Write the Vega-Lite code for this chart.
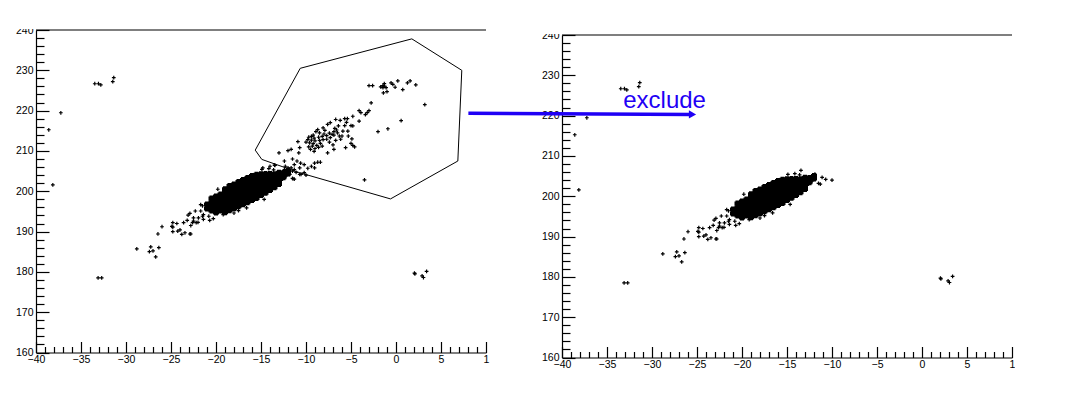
{
"$schema":"https://vega.github.io/schema/vega-lite/v6.json",
"padding":{"left":14,"top":9,"right":0,"bottom":0},
"background":"white",
"config":{"view":{"stroke":null},"axis":{"labelFont":"Liberation Sans","labelFontSize":10.5,"labelColor":"#000","domainColor":"#000","tickColor":"#000","tickWidth":1.2,"domainWidth":1.2,"grid":false,"title":null,"labelFlush":false,"labelOverlap":false},"text":{"font":"Liberation Sans"}},
"datasets":{
"ticksdummy":[{"x":-40,"y":160}],
"top":[{"x":-40,"x2":10,"y":240}],
"mask":[{"x":-40,"y":240}],
"gate":[{"o":1,"x":-15.64,"y":210.2},{"o":2,"x":-14.91,"y":207.9},{"o":3,"x":-10.72,"y":204.6},{"o":4,"x":-0.61,"y":198.1},{"o":5,"x":6.87,"y":207.5},{"o":6,"x":7.31,"y":230.0},{"o":7,"x":1.76,"y":237.8},{"o":8,"x":-10.64,"y":230.5},{"o":9,"x":-15.64,"y":210.2}],
"arrow":[{"o":1,"x":-50.4,"y":220.6},{"o":2,"x":-25.6,"y":220.3}],
"head":[{"x":-25.5,"y":220.3}],
"label":[{"x":-33.2,"y":221.95,"t":"exclude"}],
"pts":[
{"x":-21,"y":195.7,"g":"core"},{"x":-21,"y":196.7,"g":"core"},
{"x":-20.5,"y":195.2,"g":"core"},{"x":-20.5,"y":196.2,"g":"core"},{"x":-20.5,"y":197.2,"g":"core"},{"x":-20.5,"y":198.2,"g":"core"},
{"x":-20,"y":194.7,"g":"core"},{"x":-20,"y":195.7,"g":"core"},{"x":-20,"y":196.7,"g":"core"},{"x":-20,"y":197.7,"g":"core"},{"x":-20,"y":198.7,"g":"core"},
{"x":-19.5,"y":195.2,"g":"core"},{"x":-19.5,"y":196.2,"g":"core"},{"x":-19.5,"y":197.2,"g":"core"},{"x":-19.5,"y":198.2,"g":"core"},{"x":-19.5,"y":199.2,"g":"core"},
{"x":-19,"y":194.8,"g":"core"},{"x":-19,"y":195.8,"g":"core"},{"x":-19,"y":196.8,"g":"core"},{"x":-19,"y":197.8,"g":"core"},{"x":-19,"y":198.8,"g":"core"},{"x":-19,"y":199.8,"g":"core"},{"x":-19,"y":200.5,"g":"core"},
{"x":-18.5,"y":195.3,"g":"core"},{"x":-18.5,"y":196.3,"g":"core"},{"x":-18.5,"y":197.3,"g":"core"},{"x":-18.5,"y":198.3,"g":"core"},{"x":-18.5,"y":199.3,"g":"core"},{"x":-18.5,"y":200.3,"g":"core"},{"x":-18.5,"y":201.3,"g":"core"},
{"x":-18,"y":195.8,"g":"core"},{"x":-18,"y":196.8,"g":"core"},{"x":-18,"y":197.8,"g":"core"},{"x":-18,"y":198.8,"g":"core"},{"x":-18,"y":199.8,"g":"core"},{"x":-18,"y":200.8,"g":"core"},{"x":-18,"y":201.7,"g":"core"},
{"x":-17.5,"y":196.3,"g":"core"},{"x":-17.5,"y":197.3,"g":"core"},{"x":-17.5,"y":198.3,"g":"core"},{"x":-17.5,"y":199.3,"g":"core"},{"x":-17.5,"y":200.3,"g":"core"},{"x":-17.5,"y":201.3,"g":"core"},{"x":-17.5,"y":202.3,"g":"core"},
{"x":-17,"y":196.8,"g":"core"},{"x":-17,"y":197.8,"g":"core"},{"x":-17,"y":198.8,"g":"core"},{"x":-17,"y":199.8,"g":"core"},{"x":-17,"y":200.8,"g":"core"},{"x":-17,"y":201.8,"g":"core"},{"x":-17,"y":202.8,"g":"core"},
{"x":-16.5,"y":197.3,"g":"core"},{"x":-16.5,"y":198.3,"g":"core"},{"x":-16.5,"y":199.3,"g":"core"},{"x":-16.5,"y":200.3,"g":"core"},{"x":-16.5,"y":201.3,"g":"core"},{"x":-16.5,"y":202.3,"g":"core"},{"x":-16.5,"y":203.3,"g":"core"},
{"x":-16,"y":197.8,"g":"core"},{"x":-16,"y":198.8,"g":"core"},{"x":-16,"y":199.8,"g":"core"},{"x":-16,"y":200.8,"g":"core"},{"x":-16,"y":201.8,"g":"core"},{"x":-16,"y":202.8,"g":"core"},{"x":-16,"y":203.8,"g":"core"},
{"x":-15.5,"y":198.3,"g":"core"},{"x":-15.5,"y":199.3,"g":"core"},{"x":-15.5,"y":200.3,"g":"core"},{"x":-15.5,"y":201.3,"g":"core"},{"x":-15.5,"y":202.3,"g":"core"},{"x":-15.5,"y":203.3,"g":"core"},{"x":-15.5,"y":204.1,"g":"core"},
{"x":-15,"y":199.1,"g":"core"},{"x":-15,"y":200.1,"g":"core"},{"x":-15,"y":201.1,"g":"core"},{"x":-15,"y":202.1,"g":"core"},{"x":-15,"y":203.1,"g":"core"},{"x":-15,"y":204.2,"g":"core"},
{"x":-14.5,"y":199.6,"g":"core"},{"x":-14.5,"y":200.6,"g":"core"},{"x":-14.5,"y":201.6,"g":"core"},{"x":-14.5,"y":202.6,"g":"core"},{"x":-14.5,"y":203.6,"g":"core"},{"x":-14.5,"y":204.3,"g":"core"},
{"x":-14,"y":200.3,"g":"core"},{"x":-14,"y":201.3,"g":"core"},{"x":-14,"y":202.3,"g":"core"},{"x":-14,"y":203.3,"g":"core"},{"x":-14,"y":204.3,"g":"core"},
{"x":-13.5,"y":201,"g":"core"},{"x":-13.5,"y":202,"g":"core"},{"x":-13.5,"y":203,"g":"core"},{"x":-13.5,"y":204.2,"g":"core"},
{"x":-13,"y":201.8,"g":"core"},{"x":-13,"y":202.8,"g":"core"},{"x":-13,"y":203.8,"g":"core"},{"x":-13,"y":204.6,"g":"core"},
{"x":-12.5,"y":203.5,"g":"core"},{"x":-12.5,"y":204.5,"g":"core"},{"x":-12,"y":204.4,"g":"core"},{"x":-12,"y":205,"g":"core"},

{"x":-38.58,"y":215.25,"g":"edge"},{"x":-37.24,"y":219.47,"g":"edge"},{"x":-38.13,"y":201.6,"g":"edge"},{"x":-33.47,"y":226.67,"g":"edge"},{"x":-33.06,"y":226.67,"g":"edge"},{"x":-32.8,"y":226.4,"g":"edge"},{"x":-31.36,"y":228.2,"g":"edge"},{"x":-31.47,"y":227.2,"g":"edge"},
{"x":-33.1,"y":178.5,"g":"edge"},{"x":-32.7,"y":178.5,"g":"edge"},{"x":-28.8,"y":185.7,"g":"edge"},{"x":-27.4,"y":185,"g":"edge"},{"x":-27.25,"y":186.2,"g":"edge"},{"x":-27,"y":185.2,"g":"edge"},{"x":-26.7,"y":183.7,"g":"edge"},{"x":-26.35,"y":186,"g":"edge"},{"x":-26.45,"y":189.4,"g":"edge"},{"x":-26,"y":191.2,"g":"edge"},
{"x":-24.8,"y":192.2,"g":"edge"},{"x":-24.9,"y":191.3,"g":"edge"},{"x":-24.8,"y":191.1,"g":"edge"},{"x":-24.8,"y":190,"g":"edge"},{"x":-24.35,"y":192,"g":"edge"},{"x":-24.25,"y":190.1,"g":"edge"},{"x":-24,"y":190.4,"g":"edge"},{"x":-23.8,"y":189.3,"g":"edge"},{"x":-23.45,"y":189.7,"g":"edge"},{"x":-23.6,"y":192.2,"g":"edge"},{"x":-23.2,"y":192.8,"g":"edge"},{"x":-23.1,"y":194.1,"g":"edge"},{"x":-22.9,"y":194.5,"g":"edge"},{"x":-22.9,"y":189.4,"g":"edge"},{"x":-22.8,"y":189.4,"g":"edge"},{"x":-22.8,"y":191.5,"g":"edge"},{"x":-22.5,"y":192.6,"g":"edge"},{"x":-22.5,"y":193.4,"g":"edge"},{"x":-22.6,"y":192.2,"g":"edge"},{"x":-22.2,"y":192.2,"g":"edge"},{"x":-21.95,"y":193.4,"g":"edge"},{"x":-22.3,"y":195.1,"g":"edge"},{"x":-21.7,"y":195.1,"g":"edge"},{"x":-22,"y":192.3,"g":"edge"},{"x":-21.5,"y":193.8,"g":"edge"},{"x":-21.4,"y":193,"g":"edge"},{"x":-21.4,"y":194.2,"g":"edge"},{"x":-21.5,"y":196.4,"g":"edge"},{"x":-21.7,"y":196.7,"g":"edge"},{"x":-20.7,"y":192.8,"g":"edge"},{"x":-20.3,"y":193.2,"g":"edge"},{"x":-20.8,"y":193.8,"g":"edge"},{"x":-19.2,"y":194.2,"g":"edge"},{"x":-18,"y":194.6,"g":"edge"},{"x":-17.5,"y":195.2,"g":"edge"},{"x":-16.6,"y":195.9,"g":"edge"},{"x":-14.65,"y":198,"g":"edge"},{"x":-19.8,"y":200.5,"g":"edge"},
{"x":-14.13,"y":205.6,"g":"edge"},{"x":-13.45,"y":206.4,"g":"edge"},{"x":-13.6,"y":205.3,"g":"edge"},{"x":-14.9,"y":205.45,"g":"edge"},{"x":-11.1,"y":204.7,"g":"edge"},{"x":-10.7,"y":204.2,"g":"edge"},{"x":-10,"y":204,"g":"edge"},{"x":-11.5,"y":203.2,"g":"edge"},{"x":-11.3,"y":203,"g":"edge"},{"x":-11.9,"y":205.5,"g":"edge"},{"x":-12.6,"y":203,"g":"edge"},{"x":-12.2,"y":203.8,"g":"edge"},
{"x":2.05,"y":179.7,"g":"edge"},{"x":2.1,"y":179.5,"g":"edge"},{"x":2.9,"y":179,"g":"edge"},{"x":3.05,"y":178.6,"g":"edge"},{"x":3.4,"y":180.1,"g":"edge"},

{"x":-3,"y":226.2,"g":"gate"},{"x":-2.6,"y":226.2,"g":"gate"},{"x":-1.7,"y":225.9,"g":"gate"},{"x":-1.45,"y":226.2,"g":"gate"},{"x":-1.3,"y":226.7,"g":"gate"},{"x":-1.3,"y":226.1,"g":"gate"},{"x":-1.45,"y":225.7,"g":"gate"},{"x":-1.1,"y":225.7,"g":"gate"},{"x":-1,"y":224.7,"g":"gate"},{"x":-1.4,"y":224.4,"g":"gate"},{"x":-0.55,"y":226.9,"g":"gate"},{"x":-0.35,"y":226.5,"g":"gate"},{"x":-0.1,"y":225.8,"g":"gate"},{"x":0.2,"y":227.4,"g":"gate"},{"x":0.75,"y":225.2,"g":"gate"},{"x":1.27,"y":226.9,"g":"gate"},{"x":1.57,"y":227.4,"g":"gate"},{"x":2.2,"y":226.4,"g":"gate"},{"x":3.2,"y":221.5,"g":"gate"},{"x":0.57,"y":217.5,"g":"gate"},{"x":-0.9,"y":215.5,"g":"gate"},{"x":-2,"y":214.8,"g":"gate"},{"x":-3.5,"y":202.8,"g":"gate"},{"x":-2.76,"y":221.9,"g":"gate"},
{"x":-3,"y":220,"g":"gate"},{"x":-3.4,"y":219,"g":"gate"},{"x":-3.2,"y":219.5,"g":"gate"},{"x":-4.1,"y":220,"g":"gate"},{"x":-3.9,"y":219.5,"g":"gate"},{"x":-4.1,"y":217.4,"g":"gate"},{"x":-4.8,"y":218.6,"g":"gate"},{"x":-5.4,"y":218,"g":"gate"},{"x":-5.7,"y":218,"g":"gate"},{"x":-6.7,"y":217.8,"g":"gate"},{"x":-6.2,"y":217.6,"g":"gate"},{"x":-5.5,"y":217.1,"g":"gate"},{"x":-5,"y":216.3,"g":"gate"},{"x":-4.8,"y":216.2,"g":"gate"},{"x":-5.7,"y":216.3,"g":"gate"},{"x":-5.35,"y":214.9,"g":"gate"},{"x":-5.9,"y":214.9,"g":"gate"},{"x":-5.3,"y":213.7,"g":"gate"},{"x":-6,"y":213.7,"g":"gate"},{"x":-4.9,"y":213,"g":"gate"},{"x":-6.15,"y":212.9,"g":"gate"},{"x":-5,"y":211.9,"g":"gate"},{"x":-4.8,"y":211.4,"g":"gate"},{"x":-4.6,"y":211,"g":"gate"},{"x":-5.6,"y":210.8,"g":"gate"},{"x":-6.9,"y":210.4,"g":"gate"},{"x":-7.6,"y":209.5,"g":"gate"},
{"x":-7.6,"y":216.6,"g":"gate"},{"x":-7.3,"y":217,"g":"gate"},{"x":-8.1,"y":215.7,"g":"gate"},{"x":-8.7,"y":215.3,"g":"gate"},{"x":-8.5,"y":214.5,"g":"gate"},{"x":-8.9,"y":214.8,"g":"gate"},{"x":-9.2,"y":213.9,"g":"gate"},{"x":-9.4,"y":213.6,"g":"gate"},{"x":-9.7,"y":213.4,"g":"gate"},{"x":-9.1,"y":213.2,"g":"gate"},{"x":-8.6,"y":213.4,"g":"gate"},{"x":-8.2,"y":213.6,"g":"gate"},{"x":-8,"y":214.2,"g":"gate"},{"x":-7.7,"y":213.8,"g":"gate"},{"x":-7.4,"y":214.4,"g":"gate"},{"x":-7.1,"y":214.1,"g":"gate"},{"x":-6.9,"y":214.8,"g":"gate"},{"x":-6.6,"y":215.2,"g":"gate"},{"x":-6.8,"y":215.6,"g":"gate"},{"x":-6.5,"y":214.5,"g":"gate"},{"x":-6.9,"y":213.9,"g":"gate"},{"x":-7.3,"y":213.3,"g":"gate"},{"x":-7.7,"y":212.9,"g":"gate"},{"x":-8.1,"y":212.8,"g":"gate"},{"x":-8.5,"y":212.6,"g":"gate"},{"x":-9,"y":212.5,"g":"gate"},{"x":-9.4,"y":212.7,"g":"gate"},{"x":-9.8,"y":212.8,"g":"gate"},{"x":-10,"y":212.2,"g":"gate"},{"x":-9.6,"y":212,"g":"gate"},{"x":-9.2,"y":211.8,"g":"gate"},{"x":-8.8,"y":211.4,"g":"gate"},{"x":-9.3,"y":211.2,"g":"gate"},{"x":-9.7,"y":211,"g":"gate"},{"x":-9.5,"y":210.4,"g":"gate"},{"x":-9,"y":210.6,"g":"gate"},{"x":-8.6,"y":210.9,"g":"gate"},{"x":-9.1,"y":209.9,"g":"gate"},{"x":-8.4,"y":211.9,"g":"gate"},{"x":-8.2,"y":211.2,"g":"gate"},{"x":-7.4,"y":212.2,"g":"gate"},{"x":-7,"y":211.5,"g":"gate"},{"x":-6.7,"y":212.6,"g":"gate"},{"x":-6.3,"y":213.7,"g":"gate"},{"x":-6.4,"y":216.2,"g":"gate"},{"x":-7.9,"y":215.1,"g":"gate"},
{"x":-13,"y":209.5,"g":"gate"},{"x":-12,"y":210.1,"g":"gate"},{"x":-11.65,"y":210.4,"g":"gate"},{"x":-10.9,"y":212.3,"g":"gate"},{"x":-10.7,"y":210.8,"g":"gate"},{"x":-10.8,"y":209.5,"g":"gate"},{"x":-11.5,"y":208,"g":"gate"},{"x":-11,"y":207.5,"g":"gate"},{"x":-11.3,"y":206.6,"g":"gate"},{"x":-10.6,"y":207,"g":"gate"},{"x":-10.2,"y":206.6,"g":"gate"},{"x":-9.8,"y":205.7,"g":"gate"},{"x":-9.4,"y":206.2,"g":"gate"},{"x":-9.05,"y":207,"g":"gate"},{"x":-8.7,"y":207.2,"g":"gate"},{"x":-8.4,"y":207.2,"g":"gate"},{"x":-9.05,"y":205.8,"g":"gate"},{"x":-10.55,"y":204.2,"g":"gate"},{"x":-10.2,"y":204.6,"g":"gate"},{"x":-10.7,"y":205.8,"g":"gate"},{"x":-12.4,"y":207.5,"g":"gate"},{"x":-12.3,"y":206.2,"g":"gate"},{"x":-13.5,"y":206.5,"g":"gate"},{"x":-14,"y":206.2,"g":"gate"},{"x":-14.8,"y":205.8,"g":"gate"},
{"x":-12.76,"y":204.6,"g":"gate"},{"x":-12.4,"y":205.4,"g":"gate"},{"x":-12,"y":205.8,"g":"gate"},{"x":-11.65,"y":205.8,"g":"gate"},{"x":-11.3,"y":205.4,"g":"gate"},{"x":-11.45,"y":203.1,"g":"gate"},{"x":-11.8,"y":204.2,"g":"gate"},{"x":-11.5,"y":205,"g":"gate"},{"x":-12,"y":205,"g":"gate"}
]},
"hconcat":[
{"width":450,"height":322.5,
"layer":[
{"data":{"name":"ticksdummy"},"mark":{"type":"rule","opacity":0},
"encoding":{
"x":{"field":"x","type":"quantitative","scale":{"domain":[-40,10],"nice":false,"zero":false},"axis":{"orient":"bottom","values":[-39,-38,-37,-36,-34,-33,-32,-31,-29,-28,-27,-26,-24,-23,-22,-21,-19,-18,-17,-16,-14,-13,-12,-11,-9,-8,-7,-6,-4,-3,-2,-1,1,2,3,4,6,7,8,9],"labels":false,"tickSize":-6,"domain":false}},
"y":{"field":"y","type":"quantitative","scale":{"domain":[160,240],"nice":false,"zero":false},"axis":{"orient":"left","values":[162,164,166,168,172,174,176,178,182,184,186,188,192,194,196,198,202,204,206,208,212,214,216,218,222,224,226,228,232,234,236,238],"labels":false,"tickSize":-8,"domain":false}}}},
{"data":{"name":"pts"},"transform":[{"filter":"datum.g=='core'"}],"mark":{"type":"point","shape":"M-1,0H1M0,-1V1","filled":false,"stroke":"#000","strokeWidth":4,"size":36,"opacity":1},
"encoding":{
"x":{"field":"x","type":"quantitative","scale":{"domain":[-40,10],"nice":false,"zero":false},"axis":{"orient":"bottom","values":[-40,-35,-30,-25,-20,-15,-10,-5,0,5,10],"tickSize":-11,"labelPadding":13,"labelExpr":"datum.value==10?'1\u00a0\u00a0':datum.label"}},
"y":{"field":"y","type":"quantitative","scale":{"domain":[160,240],"nice":false,"zero":false},"axis":{"orient":"left","values":[160,170,180,190,200,210,220,230,240],"tickSize":-13,"labelPadding":16}}}},
{"data":{"name":"pts"},"transform":[{"filter":"datum.g!='core'"}],"mark":{"type":"point","shape":"M-1,0H1M0,-1V1","filled":false,"stroke":"#000","strokeWidth":1.2,"size":14,"opacity":1},
"encoding":{"x":{"field":"x","type":"quantitative","axis":null},"y":{"field":"y","type":"quantitative","axis":null}}},
{"data":{"name":"top"},"mark":{"type":"rule","color":"#000","strokeWidth":1.2},"encoding":{"x":{"field":"x","type":"quantitative","axis":null},"x2":{"field":"x2"},"y":{"field":"y","type":"quantitative","axis":null}}},
{"data":{"name":"gate"},"mark":{"type":"line","color":"#000","strokeWidth":1},"encoding":{"x":{"field":"x","type":"quantitative","axis":null},"y":{"field":"y","type":"quantitative","axis":null},"order":{"field":"o"}}},
{"data":{"name":"mask"},"mark":{"type":"point","shape":"square","filled":true,"color":"#fff","size":400,"opacity":1,"xOffset":-12,"yOffset":-11},"encoding":{"x":{"field":"x","type":"quantitative","axis":null},"y":{"field":"y","type":"quantitative","axis":null}}}
],
"resolve":{"axis":{"x":"independent","y":"independent"}}},
{"spacing":0,"bounds":"flush","vconcat":[
{"width":450,"height":5,"data":{"name":"ticksdummy"},"mark":{"type":"rule","opacity":0},"encoding":{"x":{"field":"x","type":"quantitative","axis":null},"y":{"field":"y","type":"quantitative","axis":null}}},
{"width":450,"height":322.5,
"layer":[
{"data":{"name":"ticksdummy"},"mark":{"type":"rule","opacity":0},
"encoding":{
"x":{"field":"x","type":"quantitative","scale":{"domain":[-40,10],"nice":false,"zero":false},"axis":{"orient":"bottom","values":[-39,-38,-37,-36,-34,-33,-32,-31,-29,-28,-27,-26,-24,-23,-22,-21,-19,-18,-17,-16,-14,-13,-12,-11,-9,-8,-7,-6,-4,-3,-2,-1,1,2,3,4,6,7,8,9],"labels":false,"tickSize":-6,"domain":false}},
"y":{"field":"y","type":"quantitative","scale":{"domain":[160,240],"nice":false,"zero":false},"axis":{"orient":"left","values":[162,164,166,168,172,174,176,178,182,184,186,188,192,194,196,198,202,204,206,208,212,214,216,218,222,224,226,228,232,234,236,238],"labels":false,"tickSize":-8,"domain":false}}}},
{"data":{"name":"pts"},"transform":[{"filter":"datum.g=='core'"}],"mark":{"type":"point","shape":"M-1,0H1M0,-1V1","filled":false,"stroke":"#000","strokeWidth":4,"size":36,"opacity":1},
"encoding":{
"x":{"field":"x","type":"quantitative","scale":{"domain":[-40,10],"nice":false,"zero":false},"axis":{"orient":"bottom","values":[-40,-35,-30,-25,-20,-15,-10,-5,0,5,10],"tickSize":-11,"labelPadding":13,"labelExpr":"datum.value==10?'1\u00a0\u00a0':datum.label"}},
"y":{"field":"y","type":"quantitative","scale":{"domain":[160,240],"nice":false,"zero":false},"axis":{"orient":"left","values":[160,170,180,190,200,210,220,230,240],"tickSize":-13,"labelPadding":16}}}},
{"data":{"name":"pts"},"transform":[{"filter":"datum.g=='edge'"}],"mark":{"type":"point","shape":"M-1,0H1M0,-1V1","filled":false,"stroke":"#000","strokeWidth":1.2,"size":14,"opacity":1},
"encoding":{"x":{"field":"x","type":"quantitative","axis":null},"y":{"field":"y","type":"quantitative","axis":null}}},
{"data":{"name":"top"},"mark":{"type":"rule","color":"#000","strokeWidth":1.2},"encoding":{"x":{"field":"x","type":"quantitative","axis":null},"x2":{"field":"x2"},"y":{"field":"y","type":"quantitative","axis":null}}},
{"data":{"name":"mask"},"mark":{"type":"point","shape":"square","filled":true,"color":"#fff","size":400,"opacity":1,"xOffset":-12,"yOffset":-11},"encoding":{"x":{"field":"x","type":"quantitative","axis":null},"y":{"field":"y","type":"quantitative","axis":null}}},
{"data":{"name":"arrow"},"mark":{"type":"line","color":"#1f00f5","strokeWidth":3.5,"clip":false},"encoding":{"x":{"field":"x","type":"quantitative","axis":null},"y":{"field":"y","type":"quantitative","axis":null},"order":{"field":"o"}}},
{"data":{"name":"head"},"mark":{"type":"point","shape":"triangle-right","filled":true,"color":"#1f00f5","size":70,"opacity":1},"encoding":{"x":{"field":"x","type":"quantitative","axis":null},"y":{"field":"y","type":"quantitative","axis":null}}},
{"data":{"name":"label"},"mark":{"type":"text","color":"#1f00f5","fontSize":24,"align":"left","baseline":"alphabetic"},"encoding":{"x":{"field":"x","type":"quantitative","axis":null},"y":{"field":"y","type":"quantitative","axis":null},"text":{"field":"t"}}}
],
"resolve":{"axis":{"x":"independent","y":"independent"}}}
]}
],
"spacing":76,
"bounds":"flush"
}
